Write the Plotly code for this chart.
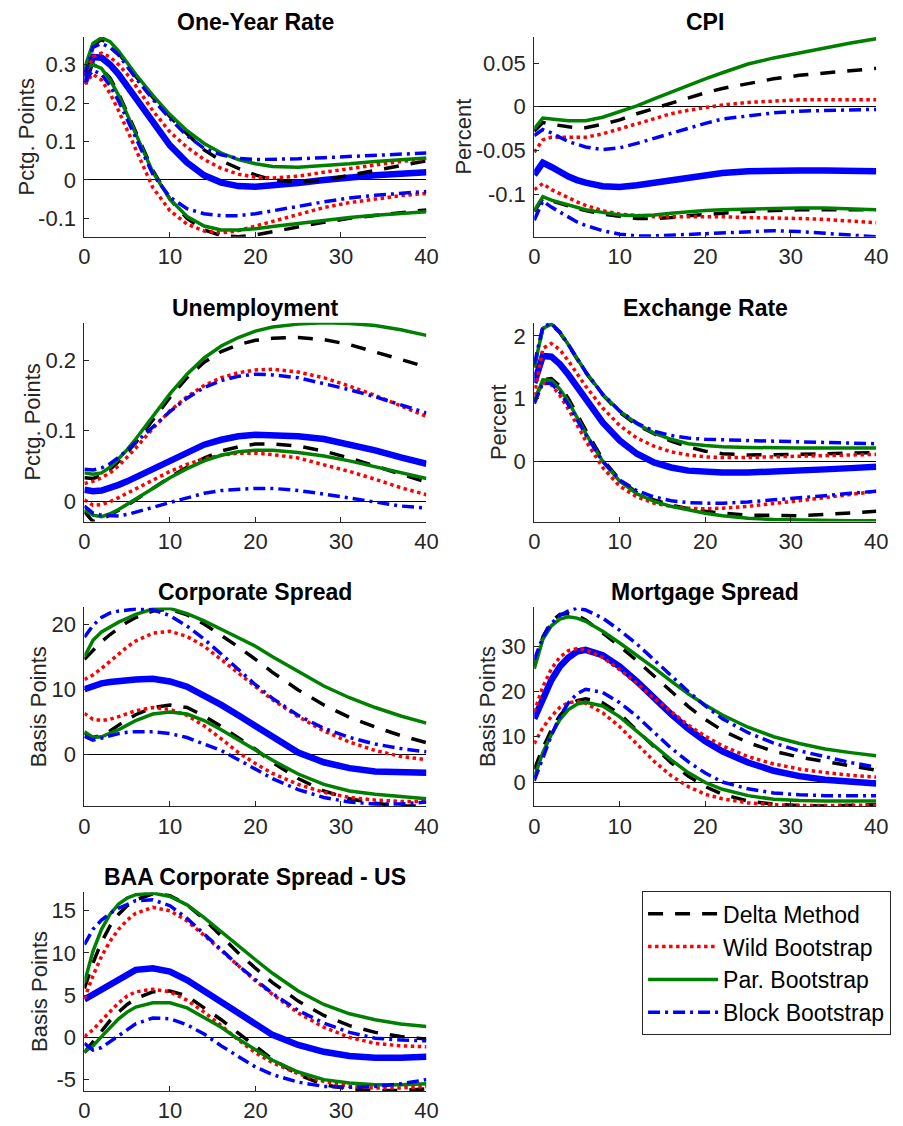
import plotly.graph_objects as go

# Horizons (quarters) at which the responses are read
H = [0, 1, 2, 3, 4, 5, 6, 8, 10, 12, 14, 16, 18, 20, 22, 25, 28, 31, 34, 37, 40]
X_TICKS = [0, 10, 20, 30, 40]

# ---------------- One-Year Rate ----------------
oyr_point    = [0.25, 0.32, 0.318, 0.30, 0.275, 0.245, 0.215, 0.15, 0.09, 0.045, 0.012, -0.007, -0.016, -0.018, -0.015, -0.008, 0.0, 0.007, 0.012, 0.016, 0.02]
oyr_delta_up = [0.28, 0.35, 0.365, 0.355, 0.33, 0.30, 0.27, 0.215, 0.165, 0.12, 0.078, 0.05, 0.03, 0.013, 0.0, -0.005, 0.0, 0.012, 0.025, 0.038, 0.05]
oyr_delta_lo = [0.28, 0.30, 0.29, 0.265, 0.225, 0.175, 0.125, 0.025, -0.05, -0.10, -0.13, -0.145, -0.148, -0.143, -0.135, -0.122, -0.11, -0.10, -0.092, -0.084, -0.078]
oyr_wild_up  = [0.27, 0.32, 0.33, 0.32, 0.30, 0.275, 0.245, 0.18, 0.125, 0.085, 0.053, 0.03, 0.015, 0.007, 0.005, 0.01, 0.02, 0.03, 0.04, 0.048, 0.055]
oyr_wild_lo  = [0.25, 0.275, 0.26, 0.225, 0.18, 0.13, 0.08, -0.02, -0.08, -0.115, -0.133, -0.138, -0.132, -0.12, -0.107, -0.088, -0.072, -0.059, -0.049, -0.041, -0.035]
oyr_par_up   = [0.29, 0.355, 0.37, 0.36, 0.335, 0.305, 0.275, 0.22, 0.17, 0.128, 0.095, 0.07, 0.053, 0.042, 0.035, 0.033, 0.037, 0.042, 0.048, 0.053, 0.057]
oyr_par_lo   = [0.29, 0.30, 0.29, 0.26, 0.22, 0.17, 0.12, 0.02, -0.05, -0.095, -0.12, -0.13, -0.13, -0.127, -0.121, -0.113, -0.105, -0.098, -0.092, -0.087, -0.083]
oyr_block_up = [0.27, 0.345, 0.355, 0.345, 0.325, 0.295, 0.265, 0.21, 0.16, 0.115, 0.082, 0.065, 0.056, 0.053, 0.053, 0.055, 0.058, 0.061, 0.064, 0.067, 0.07]
oyr_block_lo = [0.255, 0.285, 0.275, 0.245, 0.205, 0.16, 0.11, 0.015, -0.045, -0.075, -0.088, -0.093, -0.093, -0.088, -0.081, -0.069, -0.057, -0.047, -0.04, -0.034, -0.03]

# ---------------- CPI ----------------
cpi_point    = [-0.078, -0.064, -0.069, -0.075, -0.08, -0.084, -0.087, -0.091, -0.092, -0.09, -0.087, -0.084, -0.081, -0.078, -0.076, -0.074, -0.073, -0.073, -0.073, -0.073, -0.074]
cpi_delta_up = [-0.028, -0.018, -0.02, -0.022, -0.023, -0.024, -0.024, -0.02, -0.015, -0.008, -0.002, 0.005, 0.011, 0.016, 0.021, 0.027, 0.032, 0.036, 0.039, 0.042, 0.044]
cpi_delta_lo = [-0.12, -0.105, -0.108, -0.111, -0.114, -0.117, -0.119, -0.123, -0.126, -0.128, -0.128, -0.127, -0.125, -0.123, -0.122, -0.12, -0.119, -0.118, -0.118, -0.118, -0.118]
cpi_wild_up  = [-0.052, -0.038, -0.035, -0.035, -0.036, -0.036, -0.035, -0.031, -0.025, -0.019, -0.013, -0.008, -0.004, -0.001, 0.002, 0.005, 0.007, 0.008, 0.008, 0.008, 0.008]
cpi_wild_lo  = [-0.095, -0.088, -0.095, -0.10, -0.105, -0.109, -0.113, -0.119, -0.123, -0.125, -0.126, -0.126, -0.126, -0.126, -0.126, -0.127, -0.127, -0.128, -0.129, -0.131, -0.133]
cpi_par_up   = [-0.025, -0.013, -0.014, -0.015, -0.016, -0.016, -0.016, -0.012, -0.006, 0.001, 0.009, 0.017, 0.025, 0.032, 0.039, 0.049, 0.056, 0.062, 0.068, 0.073, 0.078]
cpi_par_lo   = [-0.119, -0.103, -0.107, -0.11, -0.113, -0.116, -0.118, -0.121, -0.124, -0.125, -0.124, -0.122, -0.12, -0.119, -0.118, -0.117, -0.116, -0.116, -0.116, -0.117, -0.118]
cpi_block_up = [-0.033, -0.026, -0.03, -0.035, -0.04, -0.043, -0.046, -0.049, -0.047, -0.042, -0.036, -0.03, -0.024, -0.019, -0.014, -0.01, -0.007, -0.005, -0.004, -0.003, -0.003]
cpi_block_lo = [-0.13, -0.108, -0.115, -0.121, -0.127, -0.132, -0.136, -0.142, -0.146, -0.148, -0.148, -0.147, -0.146, -0.145, -0.144, -0.143, -0.142, -0.143, -0.145, -0.147, -0.149]

# ---------------- Unemployment ----------------
une_point    = [0.016, 0.014, 0.015, 0.018, 0.023, 0.028, 0.034, 0.046, 0.058, 0.07, 0.08, 0.087, 0.092, 0.094, 0.094, 0.092, 0.088, 0.081, 0.072, 0.062, 0.053]
une_delta_up = [0.033, 0.032, 0.036, 0.045, 0.056, 0.069, 0.083, 0.115, 0.147, 0.175, 0.197, 0.212, 0.222, 0.228, 0.231, 0.232, 0.229, 0.222, 0.212, 0.201, 0.19]
une_delta_lo = [-0.015, -0.029, -0.026, -0.02, -0.013, -0.006, 0.002, 0.018, 0.034, 0.048, 0.061, 0.071, 0.077, 0.081, 0.081, 0.078, 0.071, 0.061, 0.05, 0.038, 0.027]
une_wild_up  = [0.025, 0.028, 0.033, 0.04, 0.05, 0.062, 0.075, 0.103, 0.128, 0.148, 0.164, 0.175, 0.182, 0.186, 0.187, 0.183, 0.175, 0.163, 0.15, 0.135, 0.12]
une_wild_lo  = [0.002, -0.006, -0.005, -0.001, 0.005, 0.011, 0.018, 0.03, 0.042, 0.052, 0.06, 0.065, 0.068, 0.068, 0.066, 0.061, 0.052, 0.042, 0.031, 0.019, 0.009]
une_par_up   = [0.04, 0.038, 0.04, 0.048, 0.06, 0.073, 0.088, 0.12, 0.152, 0.18, 0.203, 0.22, 0.232, 0.241, 0.247, 0.251, 0.253, 0.252, 0.249, 0.243, 0.235]
une_par_lo   = [-0.012, -0.02, -0.022, -0.018, -0.012, -0.005, 0.003, 0.018, 0.033, 0.046, 0.057, 0.065, 0.07, 0.072, 0.072, 0.069, 0.064, 0.057, 0.049, 0.041, 0.032]
une_block_up = [0.045, 0.044, 0.047, 0.053, 0.062, 0.072, 0.083, 0.105, 0.127, 0.146, 0.161, 0.171, 0.177, 0.18, 0.179, 0.175, 0.167, 0.158, 0.148, 0.137, 0.125]
une_block_lo = [-0.007, -0.017, -0.02, -0.021, -0.021, -0.019, -0.016, -0.009, -0.002, 0.005, 0.011, 0.015, 0.017, 0.018, 0.018, 0.015, 0.01, 0.004, -0.002, -0.007, -0.01]

# ---------------- Exchange Rate ----------------
exr_point    = [1.25, 1.68, 1.67, 1.55, 1.38, 1.18, 0.98, 0.62, 0.33, 0.12, -0.02, -0.1, -0.15, -0.17, -0.18, -0.18, -0.17, -0.15, -0.13, -0.11, -0.09]
exr_delta_up = [1.5, 2.12, 2.18, 2.05, 1.85, 1.63, 1.42, 1.06, 0.78, 0.58, 0.44, 0.32, 0.23, 0.16, 0.12, 0.1, 0.1, 0.11, 0.12, 0.13, 0.14]
exr_delta_lo = [0.95, 1.3, 1.32, 1.2, 1.0, 0.75, 0.5, 0.03, -0.3, -0.5, -0.62, -0.7, -0.76, -0.8, -0.83, -0.86, -0.87, -0.87, -0.85, -0.83, -0.8]
exr_wild_up  = [1.05, 1.8, 1.88, 1.78, 1.6, 1.4, 1.2, 0.85, 0.57, 0.37, 0.24, 0.15, 0.1, 0.07, 0.06, 0.06, 0.07, 0.08, 0.09, 0.1, 0.11]
exr_wild_lo  = [0.95, 1.25, 1.22, 1.05, 0.83, 0.58, 0.33, -0.1, -0.4, -0.57, -0.67, -0.72, -0.75, -0.76, -0.75, -0.72, -0.68, -0.63, -0.58, -0.53, -0.48]
exr_par_up   = [1.5, 2.12, 2.19, 2.06, 1.86, 1.64, 1.43, 1.07, 0.8, 0.6, 0.45, 0.35, 0.28, 0.25, 0.23, 0.22, 0.21, 0.21, 0.21, 0.21, 0.21]
exr_par_lo   = [0.95, 1.3, 1.29, 1.15, 0.95, 0.7, 0.45, 0.0, -0.32, -0.52, -0.64, -0.72, -0.78, -0.83, -0.87, -0.91, -0.93, -0.94, -0.95, -0.95, -0.95]
exr_block_up = [1.55, 2.15, 2.2, 2.06, 1.86, 1.64, 1.43, 1.07, 0.8, 0.61, 0.48, 0.41, 0.37, 0.35, 0.34, 0.33, 0.32, 0.31, 0.3, 0.29, 0.28]
exr_block_lo = [0.92, 1.25, 1.24, 1.1, 0.9, 0.67, 0.43, 0.0, -0.3, -0.47, -0.57, -0.63, -0.66, -0.67, -0.67, -0.65, -0.62, -0.59, -0.55, -0.51, -0.48]

# ---------------- Corporate Spread ----------------
cor_point    = [10, 10.5, 10.9, 11.1, 11.3, 11.4, 11.5, 11.6, 11.2, 10.4, 9.1, 7.6, 6.0, 4.4, 2.8, 0.3, -1.2, -2.1, -2.6, -2.8, -2.8]
cor_delta_up = [14.6, 16, 17.3, 18.4, 19.4, 20.3, 21.0, 22.0, 22.3, 21.4, 20.0, 18.3, 16.5, 14.6, 12.6, 9.9, 7.6, 5.7, 4.2, 2.9, 1.8]
cor_delta_lo = [3.3, 2.6, 2.9, 3.6, 4.5, 5.3, 6.1, 7.2, 7.6, 7.2, 5.9, 4.3, 2.6, 0.8, -1.2, -3.7, -5.6, -6.8, -7.5, -7.9, -7.9]
cor_wild_up  = [11.5, 12.2, 13.2, 14.3, 15.5, 16.5, 17.4, 18.6, 18.9, 18.1, 16.6, 14.6, 12.5, 10.4, 8.4, 5.8, 3.6, 1.9, 0.6, -0.3, -0.8]
cor_wild_lo  = [6.3, 5.4, 5.2, 5.4, 5.8, 6.2, 6.7, 7.2, 6.9, 6.0, 4.4, 2.4, 0.3, -1.4, -2.9, -4.6, -5.8, -6.6, -7.0, -7.2, -7.2]
cor_par_up   = [15, 17.5, 18.8, 19.6, 20.3, 20.9, 21.5, 22.3, 22.4, 21.6, 20.5, 19.2, 17.9, 16.6, 15.0, 12.7, 10.5, 8.7, 7.2, 5.9, 4.8]
cor_par_lo   = [3.5, 2.6, 2.7, 3.2, 3.8, 4.5, 5.2, 6.2, 6.5, 6.2, 5.2, 3.8, 2.3, 0.7, -0.9, -3.0, -4.6, -5.6, -6.1, -6.5, -6.8]
cor_block_up = [18, 19.8, 21, 21.7, 22, 22.2, 22.3, 22.2, 21.3, 19.7, 17.7, 15.4, 13.0, 10.7, 8.6, 6.0, 4.0, 2.6, 1.6, 0.9, 0.4]
cor_block_lo = [2.8, 2.2, 2.5, 2.9, 3.2, 3.4, 3.5, 3.5, 3.2, 2.6, 1.6, 0.6, -0.8, -2.3, -3.7, -5.4, -6.6, -7.3, -7.6, -7.6, -7.3]

# ---------------- Mortgage Spread ----------------
mor_point    = [14, 18.5, 22.5, 25.5, 27.5, 28.8, 29.2, 28.0, 25.5, 22.2, 18.5, 15.0, 11.8, 9.0, 6.8, 4.3, 2.5, 1.3, 0.5, 0.0, -0.3]
mor_delta_up = [25.5, 32, 35.5, 37, 37.2, 36.8, 35.8, 33.0, 30.0, 26.8, 23.5, 20.0, 16.7, 13.8, 11.4, 8.7, 6.8, 5.5, 4.5, 3.5, 2.6]
mor_delta_lo = [2.8, 7.5, 11.5, 14.7, 16.8, 18.0, 18.4, 17.5, 15.0, 11.5, 7.8, 4.3, 1.3, -1.0, -2.7, -4.2, -4.9, -5.2, -5.3, -5.2, -5.0]
mor_wild_up  = [15.5, 21, 25, 27.6, 29, 29.5, 29.2, 27.5, 24.8, 21.8, 18.5, 15.5, 12.6, 10.1, 8.0, 5.6, 4.0, 2.9, 2.1, 1.5, 1.1]
mor_wild_lo  = [8.5, 12, 14.5, 16.5, 17.5, 17.8, 17.4, 15.3, 12.2, 8.5, 4.6, 1.4, -1.0, -2.7, -3.7, -4.6, -5.0, -5.2, -5.2, -5.2, -5.1]
mor_par_up   = [25, 31.5, 34.5, 36, 36.5, 36.2, 35.5, 33.3, 30.7, 28.0, 25.2, 22.3, 19.5, 17.0, 14.8, 12.1, 10.0, 8.5, 7.3, 6.5, 5.8]
mor_par_lo   = [1, 6.5, 10.5, 13.8, 16.0, 17.2, 17.6, 16.8, 14.4, 11.3, 8.0, 4.9, 2.1, -0.1, -1.6, -3.0, -3.8, -4.1, -4.2, -4.2, -4.2]
mor_block_up = [27, 32, 35, 36.8, 37.8, 38.4, 38.0, 36.2, 33.5, 30.5, 27.0, 23.5, 20.0, 16.8, 14.0, 10.9, 8.6, 6.9, 5.5, 4.3, 3.3]
mor_block_lo = [0.3, 5.5, 10.3, 14.5, 17.5, 19.5, 20.5, 19.8, 17.5, 14.5, 11.0, 7.5, 4.5, 2.0, 0.0, -1.5, -2.4, -2.8, -3.0, -3.0, -3.0]

# ---------------- BAA Corporate Spread - US ----------------
baa_point    = [4.5, 5.1, 5.6, 6.3, 7.0, 7.6, 8.0, 8.2, 7.8, 6.8, 5.5, 4.1, 2.7, 1.4, 0.3, -0.9, -1.7, -2.2, -2.4, -2.4, -2.3]
baa_delta_up = [5.8, 8.8, 11.3, 13.2, 14.6, 15.6, 16.3, 17.0, 16.8, 15.7, 14.0, 12.0, 10.0, 8.2, 6.5, 4.3, 2.6, 1.4, 0.6, 0.1, -0.2]
baa_delta_lo = [-1.8, -0.5, 0.8, 2.0, 3.0, 3.9, 4.6, 5.4, 5.5, 4.9, 3.5, 2.1, 0.5, -1.1, -2.6, -4.4, -5.6, -6.1, -6.3, -6.3, -6.1]
baa_wild_up  = [4.6, 7.3, 9.6, 11.4, 12.8, 13.9, 14.7, 15.4, 15.0, 13.8, 12.1, 10.3, 8.5, 6.7, 5.1, 2.9, 1.2, 0.0, -0.7, -1.0, -1.1]
baa_wild_lo  = [0.1, 0.9, 2.0, 3.1, 4.1, 4.9, 5.4, 5.7, 5.4, 4.4, 3.0, 1.4, -0.3, -1.8, -3.0, -4.3, -5.2, -5.8, -6.0, -6.0, -5.8]
baa_par_up   = [6.5, 10.2, 12.8, 14.6, 15.8, 16.5, 16.9, 17.1, 16.7, 15.7, 14.2, 12.5, 10.8, 9.2, 7.6, 5.5, 3.9, 2.8, 2.1, 1.6, 1.3]
baa_par_lo   = [-1.7, -1.0, 0.1, 1.2, 2.2, 3.0, 3.6, 4.1, 4.1, 3.5, 2.4, 1.2, -0.2, -1.5, -2.7, -4.1, -5.0, -5.4, -5.6, -5.6, -5.5]
baa_block_up = [11, 12.8, 13.9, 14.7, 15.3, 15.8, 16.2, 16.3, 15.6, 14.1, 12.3, 10.4, 8.5, 6.8, 5.2, 3.2, 1.7, 0.6, -0.1, -0.3, -0.4]
baa_block_lo = [-0.7, -1.5, -1.2, -0.5, 0.3, 1.0, 1.6, 2.3, 2.2, 1.5, 0.4, -1.0, -2.3, -3.5, -4.4, -5.3, -5.8, -5.9, -5.8, -5.5, -5.0]

TITLES = ["One-Year Rate", "CPI", "Unemployment", "Exchange Rate",
          "Corporate Spread", "Mortgage Spread", "BAA Corporate Spread - US"]
YLABELS = ["Pctg. Points", "Percent", "Pctg. Points", "Percent",
           "Basis Points", "Basis Points", "Basis Points"]
Y_TICKS = [[-0.1, 0, 0.1, 0.2, 0.3], [-0.1, -0.05, 0, 0.05], [0, 0.1, 0.2], [0, 1, 2],
           [0, 10, 20], [0, 10, 20, 30], [-5, 0, 5, 10, 15]]
Y_TICKTEXT = [["-0.1", "0", "0.1", "0.2", "0.3"], ["-0.1", "-0.05", "0", "0.05"],
              ["0", "0.1", "0.2"], ["0", "1", "2"], ["0", "10", "20"],
              ["0", "10", "20", "30"], ["-5", "0", "5", "10", "15"]]

SERIES = [
    dict(point=oyr_point, delta=(oyr_delta_up, oyr_delta_lo), wild=(oyr_wild_up, oyr_wild_lo),
         par=(oyr_par_up, oyr_par_lo), block=(oyr_block_up, oyr_block_lo)),
    dict(point=cpi_point, delta=(cpi_delta_up, cpi_delta_lo), wild=(cpi_wild_up, cpi_wild_lo),
         par=(cpi_par_up, cpi_par_lo), block=(cpi_block_up, cpi_block_lo)),
    dict(point=une_point, delta=(une_delta_up, une_delta_lo), wild=(une_wild_up, une_wild_lo),
         par=(une_par_up, une_par_lo), block=(une_block_up, une_block_lo)),
    dict(point=exr_point, delta=(exr_delta_up, exr_delta_lo), wild=(exr_wild_up, exr_wild_lo),
         par=(exr_par_up, exr_par_lo), block=(exr_block_up, exr_block_lo)),
    dict(point=cor_point, delta=(cor_delta_up, cor_delta_lo), wild=(cor_wild_up, cor_wild_lo),
         par=(cor_par_up, cor_par_lo), block=(cor_block_up, cor_block_lo)),
    dict(point=mor_point, delta=(mor_delta_up, mor_delta_lo), wild=(mor_wild_up, mor_wild_lo),
         par=(mor_par_up, mor_par_lo), block=(mor_block_up, mor_block_lo)),
    dict(point=baa_point, delta=(baa_delta_up, baa_delta_lo), wild=(baa_wild_up, baa_wild_lo),
         par=(baa_par_up, baa_par_lo), block=(baa_block_up, baa_block_lo)),
]

METHOD_NAMES = {"delta": "Delta Method", "wild": "Wild Bootstrap",
                "par": "Par. Bootstrap", "block": "Block Bootstrap"}

# ---------------- styling ----------------
W, HGT = 903, 1126
FONT = "Liberation Sans, Arial, Helvetica, sans-serif"
AX_COLOR = "#262626"
STYLE = {
    "point": dict(color="#0000FF", width=6.5, dash="solid"),
    "delta": dict(color="#000000", width=3.5, dash="15px,12px"),
    "wild": dict(color="#FF0000", width=3.5, dash="3.5px,3.5px"),
    "par": dict(color="#008000", width=3.5, dash="solid"),
    "block": dict(color="#0000FF", width=3.5, dash="12px,5px,3px,5px"),
}
COLS_PX = [(80, 429), (539, 888)]
ROWS_PX = [(37, 237), (323, 522), (608, 807), (893, 1092)]
Y_RANGES = [[-0.148, 0.372], [-0.149, 0.080], [-0.029, 0.253], [-0.963, 2.212],
            [-7.95, 22.55], [-5.35, 38.55], [-6.35, 17.2]]
YLABEL_X = [21, 467, 27, 502, 34, 492, 34]

fig = go.Figure()
layout_axes = {}
annotations = []

for k, s in enumerate(SERIES):
    r, c = divmod(k, 2)
    suffix = "" if k == 0 else str(k + 1)
    xref, yref = "x" + suffix, "y" + suffix
    x0, x1 = COLS_PX[c]
    y0, y1 = ROWS_PX[r]

    # point estimate first (bottom), then bands in legend order
    fig.add_trace(go.Scatter(x=H, y=s["point"], mode="lines", line=STYLE["point"],
                             showlegend=False, xaxis=xref, yaxis=yref, hoverinfo="skip"))
    for m in ["delta", "wild", "par", "block"]:
        up, lo = s[m]
        for j, arr in enumerate((up, lo)):
            fig.add_trace(go.Scatter(
                x=H, y=arr, mode="lines", line=STYLE[m], name=METHOD_NAMES[m],
                legendgroup=m, showlegend=(k == 0 and j == 0),
                xaxis=xref, yaxis=yref, hoverinfo="skip"))

    common = dict(showline=True, linecolor=AX_COLOR, linewidth=1, mirror=False,
                  ticks="inside", ticklen=5, tickcolor=AX_COLOR, tickwidth=1,
                  showgrid=False, tickfont=dict(family=FONT, size=22, color=AX_COLOR))
    layout_axes["xaxis" + suffix] = dict(
        common, domain=[x0 / W, x1 / W], range=[0, 40], anchor=yref,
        tickvals=X_TICKS, ticktext=[str(v) for v in X_TICKS], zeroline=False)
    layout_axes["yaxis" + suffix] = dict(
        common, domain=[1 - y1 / HGT, 1 - y0 / HGT], range=Y_RANGES[k], anchor=xref,
        tickvals=Y_TICKS[k], ticktext=Y_TICKTEXT[k], ticklabelstandoff=3,
        zeroline=True, zerolinecolor="#000000", zerolinewidth=1)

    annotations.append(dict(
        text="<b>" + TITLES[k] + "</b>", xref="paper", yref="paper",
        x=(x0 + x1) / 2 / W, y=1 - (y0 - 15) / HGT, xanchor="center", yanchor="middle",
        showarrow=False, font=dict(family=FONT, size=23, color="#000000")))
    annotations.append(dict(
        text=YLABELS[k], xref="paper", yref="paper", textangle=-90,
        x=YLABEL_X[k] / W, y=1 - (y0 + y1) / 2 / HGT, xanchor="center", yanchor="middle",
        showarrow=False, font=dict(family=FONT, size=22, color=AX_COLOR)))

fig.update_layout(
    width=W, height=HGT, margin=dict(l=0, r=0, t=0, b=0),
    paper_bgcolor="white", plot_bgcolor="white",
    annotations=annotations,
    showlegend=True,
    legend=dict(x=649 / W, y=1 - 892 / HGT, xanchor="left", yanchor="top",
                bordercolor=AX_COLOR, borderwidth=1, bgcolor="white",
                font=dict(family=FONT, size=23, color="#000000"),
                itemwidth=70, tracegroupgap=0),
    **layout_axes,
)

fig.write_html("out.html", config={"displayModeBar": False},
               post_script="document.body.style.margin='0px';")
